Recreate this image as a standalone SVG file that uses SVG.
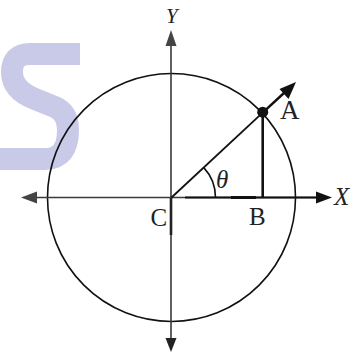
<svg xmlns="http://www.w3.org/2000/svg" width="352" height="352" viewBox="0 0 352 352">
<style>
.ax{stroke:#3a3a3a;stroke-width:1.6;fill:none}
.ln{stroke:#111;fill:none}
.lbl{font-family:"Liberation Serif","DejaVu Serif",serif;fill:#222}
.it{font-style:italic}
</style>
<rect width="352" height="352" fill="#fff"/>
<g id="watermark">
<path d="M80,54 L30,54 Q12,54 12,72 Q12,90 35,99 L55,107 Q68,113 68,130 Q68,159 45,159 L0,159" stroke="#c9cae7" stroke-width="22" fill="none"/>
</g>
<g id="circle">
<circle cx="171.5" cy="197.5" r="124" class="ln" stroke-width="1.6"/>
</g>
<g id="connectors">
<line x1="171" y1="340" x2="171" y2="45" class="ax"/>
<path d="M171,30 L176.5,46 L165.5,46 Z" fill="#444"/>
<path d="M171,352 L176.5,338 L165.5,338 Z" fill="#222"/>
<line x1="37" y1="197.5" x2="317" y2="197.5" class="ax"/>
<path d="M21,197.5 L37,191.5 L37,203.5 Z" fill="#444"/>
<path d="M332,197.5 L316,191.5 L316,203.5 Z" fill="#111"/>
<line x1="185" y1="197.5" x2="317" y2="197.5" stroke="#111" stroke-width="1.8"/>
<line x1="231" y1="197.5" x2="256" y2="197.5" stroke="#111" stroke-width="3"/>
<line x1="171" y1="198" x2="171" y2="235" stroke="#222" stroke-width="2.6"/>
<line x1="171.5" y1="197.5" x2="262.7" y2="112.7" stroke="#111" stroke-width="1.8"/>
<line x1="262.7" y1="112.7" x2="284" y2="93" stroke="#111" stroke-width="2.4"/>
<path d="M296,82 L288.5,99 L279.5,89 Z" fill="#111"/>
<line x1="262.7" y1="112.7" x2="262.7" y2="197.5" stroke="#111" stroke-width="2.6"/>
<path d="M215.5,197.5 A44,44 0 0 0 203.8,167.6" stroke="#111" stroke-width="1.6" fill="none"/>
</g>
<g id="A">
<circle cx="262.7" cy="112.2" r="5.5" fill="#111"/>
<text x="280" y="119" class="lbl" font-size="27">A</text>
</g>
<g id="B">
<text x="249" y="224.5" class="lbl" font-size="25">B</text>
</g>
<g id="C">
<text x="150.5" y="226" class="lbl" font-size="25">C</text>
</g>
<g id="theta">
<text x="216" y="188" class="lbl it" font-size="25">θ</text>
</g>
<g id="Y">
<text x="166" y="23" class="lbl it" font-size="21">Y</text>
</g>
<g id="X">
<text x="334" y="205" class="lbl it" font-size="25">X</text>
</g>
</svg>
